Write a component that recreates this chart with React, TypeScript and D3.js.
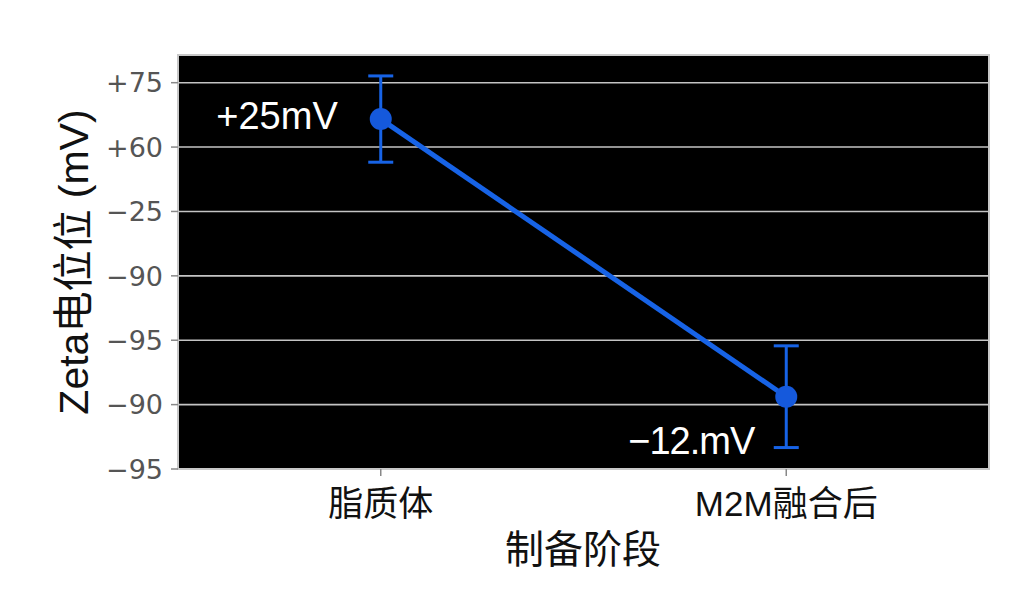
import React from "react";
import * as d3 from "d3";

// ---- data ----
const stages = ["脂质体", "M2M融合后"];
const zetaValues = [5.435, 1.123]; // position on the (irregularly labelled) axis
const zetaErrors = [0.67, 0.79];
const pointLabels = ["+25mV", "−12.mV"];
const yTickValues = [0, 1, 2, 3, 4, 5, 6];
const yTickLabels = ["−95", "−90", "−95", "−90", "−25", "+60", "+75"];

const W = 1033;
const H = 612;
const M = { left: 178, right: 989, top: 55, bottom: 469 };
const BLUE = "#1763e6";
const LATIN = "'Liberation Sans', Arial, 'Noto Sans CJK SC', sans-serif";
const CJK = "'Liberation Sans', 'Noto Sans CJK SC', sans-serif";

export default function App() {
  const x = d3.scalePoint<string>().domain(stages).range([M.left, M.right]).padding(0.5);
  const y = d3.scaleLinear().domain([0, 6.43]).range([M.bottom, M.top]);

  const line = d3
    .line<number>()
    .x((_, i) => x(stages[i]) as number)
    .y((d) => y(d));

  const labelOffsets = [
    { dx: -43, dy: 10 },
    { dx: -32, dy: 57 },
  ];

  return (
    <div style={{ margin: -8 }}>
      <svg width={W} height={H} style={{ display: "block", background: "#fff" }}>
        {/* plot background */}
        <rect x={M.left} y={M.top} width={M.right - M.left} height={M.bottom - M.top} fill="#000" />
        {/* grid */}
        {yTickValues.map((t) => (
          <line
            key={"g" + t}
            x1={M.left}
            x2={M.right}
            y1={y(t)}
            y2={y(t)}
            stroke="#c4c4c4"
            strokeWidth={1.6}
          />
        ))}
        {/* border */}
        <rect
          x={M.left}
          y={M.top}
          width={M.right - M.left}
          height={M.bottom - M.top}
          fill="none"
          stroke="#c8c8c8"
          strokeWidth={2}
        />
        {/* y ticks */}
        {yTickValues.map((t, i) => (
          <g key={"t" + t}>
            <line x1={M.left - 7} x2={M.left} y1={y(t)} y2={y(t)} stroke="#888" strokeWidth={1.5} />
            <text
              x={M.left - 15}
              y={y(t)}
              dy="0.36em"
              textAnchor="end"
              fontFamily="'DejaVu Sans', sans-serif"
              fontSize={27}
              fill="#555"
            >
              {yTickLabels[i]}
            </text>
          </g>
        ))}
        {/* x ticks */}
        {stages.map((s) => (
          <g key={s}>
            <line
              x1={x(s)}
              x2={x(s)}
              y1={M.bottom}
              y2={M.bottom + 7}
              stroke="#888"
              strokeWidth={1.5}
            />
            <text
              x={x(s)}
              y={516}
              textAnchor="middle"
              fontFamily={CJK}
              fontSize={35}
              fill="#111"
            >
              {s}
            </text>
          </g>
        ))}
        {/* axis titles */}
        <text x={583} y={563} textAnchor="middle" fontFamily={CJK} fontSize={39} fill="#111">
          制备阶段
        </text>
        <text
          transform={`translate(88,262) rotate(-90)`}
          textAnchor="middle"
          fontFamily={CJK}
          fontSize={41}
          fill="#111"
        >
          Zeta电位位 (mV)
        </text>
        {/* line */}
        <path d={line(zetaValues) || ""} fill="none" stroke={BLUE} strokeWidth={5} />
        {/* error bars */}
        {zetaValues.map((v, i) => {
          const cx = x(stages[i]) as number;
          const e = zetaErrors[i];
          return (
            <g key={"e" + i} stroke={BLUE} strokeWidth={3}>
              <line x1={cx} x2={cx} y1={y(v + e)} y2={y(v - e)} />
              <line x1={cx - 12.5} x2={cx + 12.5} y1={y(v + e)} y2={y(v + e)} />
              <line x1={cx - 12.5} x2={cx + 12.5} y1={y(v - e)} y2={y(v - e)} />
            </g>
          );
        })}
        {/* markers */}
        {zetaValues.map((v, i) => (
          <circle key={"c" + i} cx={x(stages[i])} cy={y(v)} r={11} fill="#1559dc" />
        ))}
        {/* annotations */}
        {zetaValues.map((v, i) => (
          <text
            key={"a" + i}
            x={(x(stages[i]) as number) + labelOffsets[i].dx}
            y={y(v) + labelOffsets[i].dy}
            textAnchor="end"
            fontFamily={LATIN}
            fontSize={38}
            letterSpacing={i === 1 ? -1 : 0}
            fill="#fff"
          >
            {pointLabels[i]}
          </text>
        ))}
      </svg>
    </div>
  );
}
